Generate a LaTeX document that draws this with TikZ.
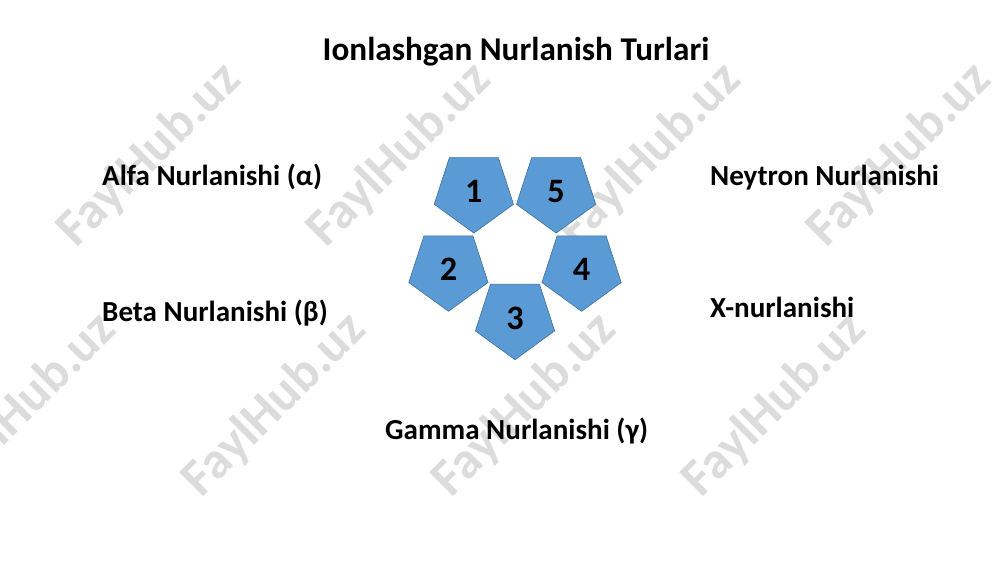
\documentclass[tikz,border=0pt]{standalone}
\usepackage{fontspec}
\setmainfont{Carlito}
\usetikzlibrary{shapes.geometric}
\definecolor{penfill}{HTML}{5B9BD5}
\definecolor{penline}{HTML}{41719C}
\definecolor{wmgray}{HTML}{DCDCDC}

\tikzset{
	pent/.style={regular polygon, regular polygon sides=5, draw=penline, line width=0.6pt,
		fill=penfill, inner sep=0pt, minimum size=80bp,
		font=\fontsize{33}{36}\selectfont\bfseries},
	lbl/.style={anchor=base west, inner sep=0pt, font=\fontsize{28}{32}\selectfont\bfseries},
	wmark/.style={rotate=45, inner sep=0pt, text=wmgray, font=\fontsize{50}{54}\selectfont\bfseries}
}

\begin{document}
\begin{tikzpicture}[x=0.96bp,y=-0.96bp]
	\useasboundingbox[fill=white] (0,0) rectangle (1000,562);
	% watermark
	\foreach \i/\x/\y in {1/150/155,2/400/155,3/650/155,4/900/155,5/25/405,6/275/405,7/525/405,8/775/405}
		\node[wmark] (wm\i) at (\x,\y) {FaylHub.uz};
	% title
	\node[anchor=base, inner sep=0pt, font=\fontsize{32}{36}\selectfont\bfseries] (title) at (516,60) {Ionlashgan Nurlanish Turlari};
	% labels
	\node[lbl] (alfa) at (102,185) {Alfa Nurlanishi (α)};
	\node[lbl] (beta) at (102,321) {Beta Nurlanishi (β)};
	\node[lbl] (gamma) at (385,439) {Gamma Nurlanishi (γ)};
	\node[lbl] (neytron) at (710,185) {Neytron Nurlanishi};
	\node[lbl] (xray) at (710,317) {X-nurlanishi};
	% pentagons
	\foreach \n/\a in {1/126,2/198,3/270,4/342,5/54}
		\node[pent, shape border rotate=\a-90] (p\n) at ({515+70*cos(\a)},{248-70*sin(\a)}) {\n};
\end{tikzpicture}
\end{document}
